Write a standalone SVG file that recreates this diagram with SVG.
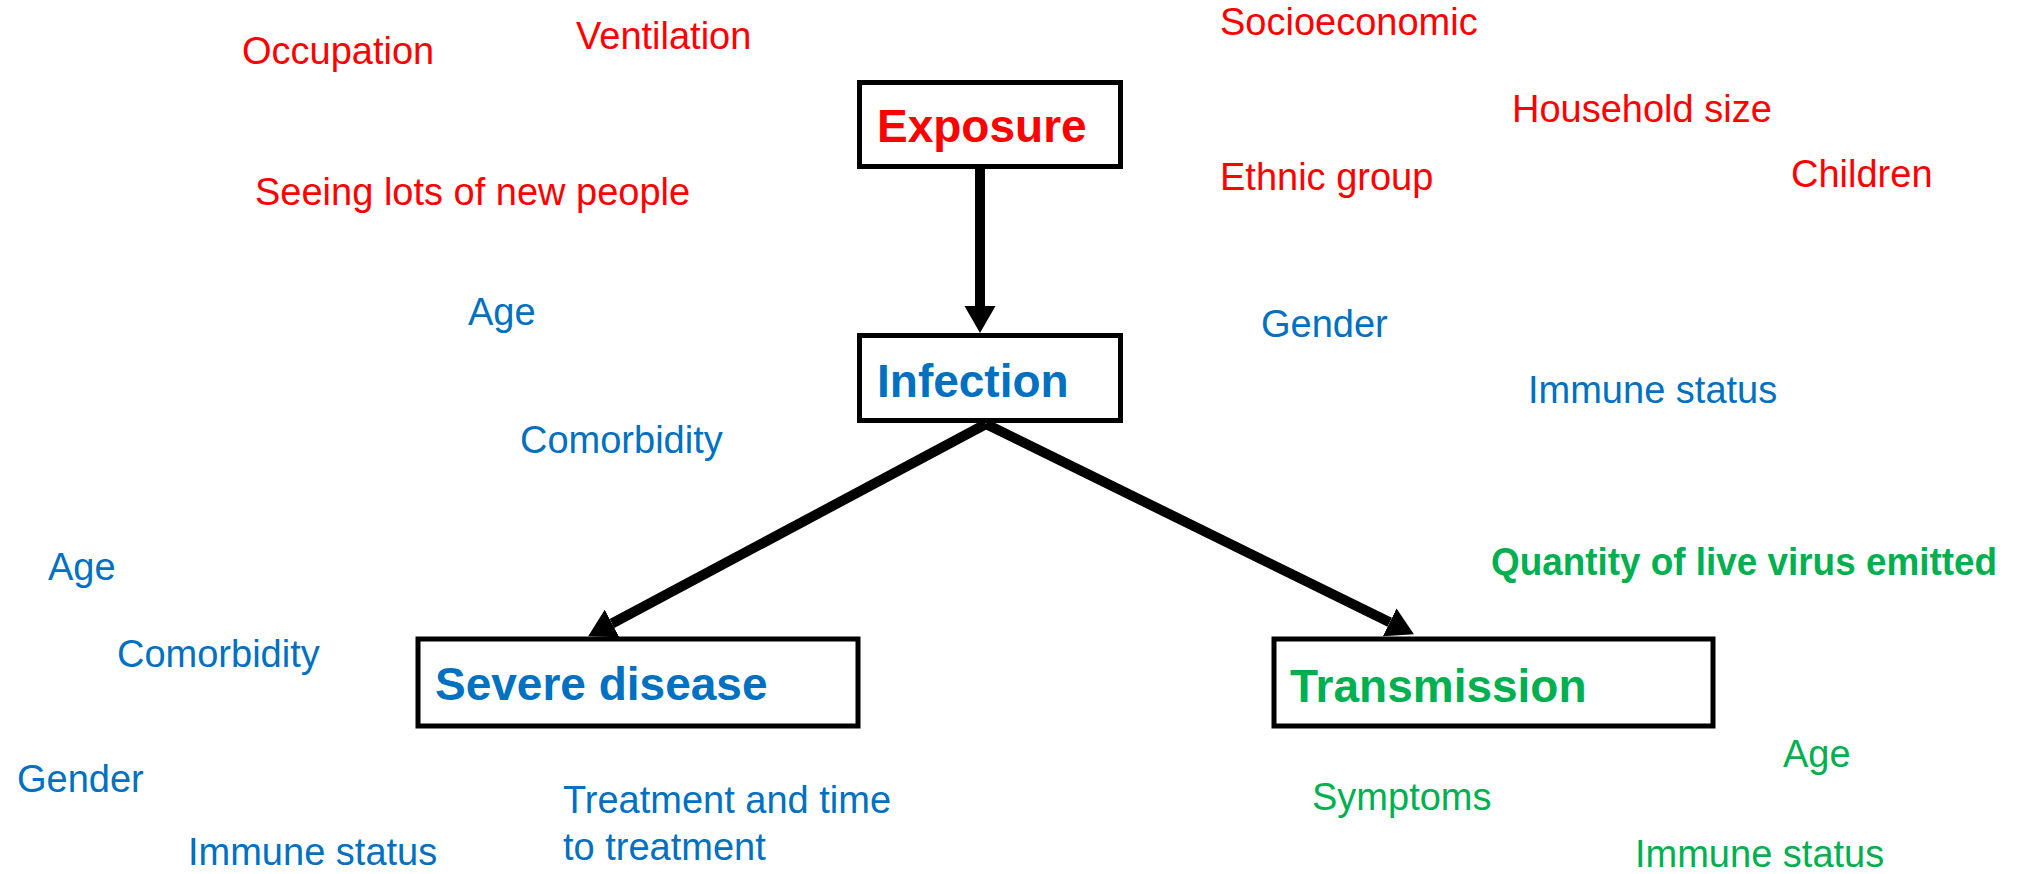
<svg xmlns="http://www.w3.org/2000/svg" width="2020" height="874" viewBox="0 0 2020 874">
<style>
  .box { fill: #ffffff; stroke: #000000; stroke-width: 5; }
  .title { font-family: "Liberation Sans", Arial, sans-serif; font-weight: bold; font-size: 46px; }
  .lbl { font-family: "Liberation Sans", Arial, sans-serif; font-size: 38px; }
  .red { fill: #FF0000; }
  .blue { fill: #0070C0; }
  .green { fill: #00B050; }
  .conn { stroke: #000000; stroke-width: 10; fill: none; marker-end: url(#ah); }
</style>
<defs>
  <marker id="ah" markerUnits="userSpaceOnUse" markerWidth="28" markerHeight="32" viewBox="0 -16 28 32" refX="0" refY="0" orient="auto">
    <polygon points="0,-15.5 27,0 0,15.5" fill="#000000"/>
  </marker>
</defs>
<rect width="2020" height="874" fill="#ffffff"/>
<g id="connectors">
  <path class="conn" d="M980,168 L980,306"/>
  <path class="conn" d="M986,424 L612,623.5"/>
  <path class="conn" d="M986,424 L1389.7,622.3"/>
</g>
<g id="exposure">
  <rect class="box" x="859.5" y="82.5" width="261" height="84"/>
  <text class="title red" x="877" y="142">Exposure</text>
</g>
<g id="infection">
  <rect class="box" x="859.5" y="335.5" width="261" height="85"/>
  <text class="title blue" x="877" y="397">Infection</text>
</g>
<g id="severe-disease">
  <rect class="box" x="418" y="639" width="440" height="87"/>
  <text class="title blue" x="435" y="700">Severe disease</text>
</g>
<g id="transmission">
  <rect class="box" x="1274" y="639" width="439" height="87"/>
  <text class="title green" x="1290" y="702">Transmission</text>
</g>
<g id="labels">
  <text class="lbl red" x="242" y="64">Occupation</text>
  <text class="lbl red" x="576" y="49">Ventilation</text>
  <text class="lbl red" x="255" y="205">Seeing lots of new people</text>
  <text class="lbl red" x="1220" y="35">Socioeconomic</text>
  <text class="lbl red" x="1512" y="122">Household size</text>
  <text class="lbl red" x="1220" y="190">Ethnic group</text>
  <text class="lbl red" x="1791" y="187">Children</text>

  <text class="lbl blue" x="468" y="325">Age</text>
  <text class="lbl blue" x="520" y="453">Comorbidity</text>
  <text class="lbl blue" x="1261" y="337">Gender</text>
  <text class="lbl blue" x="1528" y="403">Immune status</text>
  <text class="lbl blue" x="48" y="580">Age</text>
  <text class="lbl blue" x="117" y="667">Comorbidity</text>
  <text class="lbl blue" x="17" y="792">Gender</text>
  <text class="lbl blue" x="188" y="865">Immune status</text>
  <text class="lbl blue" x="563" y="813">Treatment and time</text>
  <text class="lbl blue" x="563" y="860">to treatment</text>

  <text class="lbl green" x="1491" y="575" font-weight="bold" font-size="37" textLength="506" lengthAdjust="spacingAndGlyphs">Quantity of live virus emitted</text>
  <text class="lbl green" x="1312" y="810">Symptoms</text>
  <text class="lbl green" x="1783" y="767">Age</text>
  <text class="lbl green" x="1635" y="867">Immune status</text>
</g>
</svg>
